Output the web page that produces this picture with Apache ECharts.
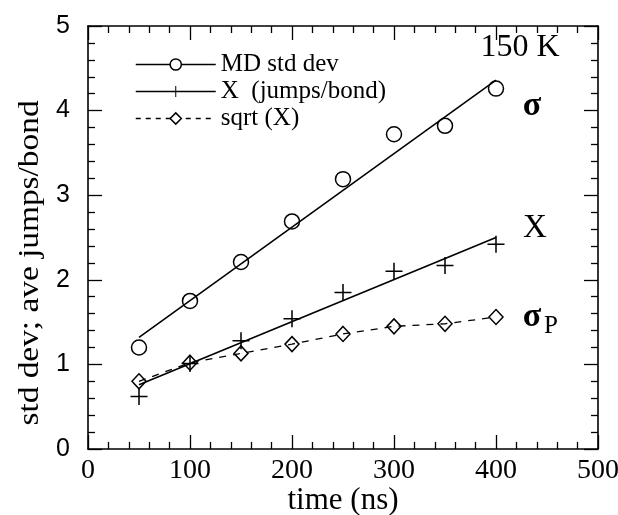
<!DOCTYPE html>
<html>
<head>
<meta charset="utf-8">
<script src="https://cdn.jsdelivr.net/npm/echarts@6/dist/echarts.min.js"></script>
<style>
html, body { margin: 0; padding: 0; background: #fff; }
#chart { width: 618px; height: 515px; }
</style>
</head>
<body>
<div id="chart"></div>
<script>
// time points (ns)
var times = [50, 100, 150, 200, 250, 300, 350, 400];
// MD std dev (circles)
var mdStd = [1.20, 1.75, 2.21, 2.69, 3.19, 3.72, 3.82, 4.26];
// X jumps/bond (crosses)
var jumps = [0.62, 1.01, 1.28, 1.54, 1.85, 2.10, 2.17, 2.42];
// sqrt(X) (diamonds)
var sqrtJumps = [0.80, 1.02, 1.13, 1.24, 1.36, 1.45, 1.48, 1.56];
// straight fit lines, end points
var sigmaFitX = [50, 400];
var sigmaFitY = [1.32, 4.36];
var jumpsFitX = [50, 400];
var jumpsFitY = [0.76, 2.50];

var serif = 'Liberation Serif';
var sans = 'Liberation Sans';
var plusPath = 'path://M-0.9,-10h1.8v20h-1.8z M-10,-0.9h20v1.8h-20z';

function pairs(xs, ys) {
    return xs.map(function (x, i) { return [x, ys[i]]; });
}

var myChart = echarts.init(document.getElementById('chart'));

var axisBase = {
    axisLine: { onZero: false, lineStyle: { color: '#000', width: 1.6 } },
    axisTick: { inside: true, length: 14, lineStyle: { color: '#000', width: 1.3 } },
    minorTick: { show: true, splitNumber: 5, length: 7, lineStyle: { color: '#000', width: 1.3 } },
    splitLine: { show: false }
};

var option = {
    backgroundColor: '#fff',
    animation: false,
    grid: { left: 88, top: 26, right: 20, bottom: 66, outerBoundsMode: 'none' },
    legend: {
        left: 130,
        top: 47,
        orient: 'vertical',
        itemWidth: 80,
        itemHeight: 14,
        itemGap: 2,
        textStyle: { fontFamily: serif, fontSize: 25, color: '#000' },
        data: [
            { name: 'MD std dev', itemStyle: { color: '#fff', borderColor: '#000', borderWidth: 1.5 },
              lineStyle: { width: 1.5, color: '#000', opacity: 1 } },
            { name: 'X  (jumps/bond)', lineStyle: { width: 1.5, color: '#000', opacity: 1 } },
            { name: 'sqrt (X)', itemStyle: { color: '#fff', borderColor: '#000', borderWidth: 1.5 },
              lineStyle: { width: 1.3, color: '#000', type: [5, 5], opacity: 1 } }
        ]
    },
    xAxis: [
        Object.assign({
            type: 'value', min: 0, max: 500, interval: 100, position: 'bottom',
            name: 'time (ns)', nameLocation: 'middle', nameGap: 36, nameMoveOverlap: false,
            nameTextStyle: { fontFamily: serif, fontSize: 31, color: '#000', verticalAlign: 'top' },
            axisLabel: { fontFamily: serif, fontSize: 28, color: '#000', margin: 8 }
        }, axisBase),
        Object.assign({
            type: 'value', min: 0, max: 500, interval: 100, position: 'top',
            axisLabel: { show: false }
        }, axisBase)
    ],
    yAxis: [
        Object.assign({
            type: 'value', min: 0, max: 5, interval: 1, position: 'left',
            axisLabel: { fontFamily: sans, fontSize: 25, color: '#000', margin: 18 }
        }, axisBase),
        Object.assign({
            type: 'value', min: 0, max: 5, interval: 1, position: 'right',
            axisLabel: { show: false }
        }, axisBase)
    ],
    graphic: [
        { type: 'text', x: 30, y: 263, rotation: Math.PI / 2, scaleX: 1.15,
          style: { text: 'std dev; ave jumps/bond', font: '29px "Liberation Serif"', fill: '#000',
                   textAlign: 'center', textVerticalAlign: 'middle' } },
        { type: 'text', x: 520, y: 48,
          style: { text: '150 K', font: '32px "Liberation Serif"', fill: '#000',
                   textAlign: 'center', textVerticalAlign: 'middle' } },
        { type: 'text', x: 532, y: 106,
          style: { text: 'σ', font: 'bold 34px "Liberation Serif"', fill: '#000',
                   textAlign: 'center', textVerticalAlign: 'middle' } },
        { type: 'text', x: 535, y: 228,
          style: { text: 'X', font: '33px "Liberation Serif"', fill: '#000',
                   textAlign: 'center', textVerticalAlign: 'middle' } },
        { type: 'text', x: 532, y: 317,
          style: { text: 'σ', font: 'bold 34px "Liberation Serif"', fill: '#000',
                   textAlign: 'center', textVerticalAlign: 'middle' } },
        { type: 'text', x: 551, y: 326,
          style: { text: 'P', font: '25px "Liberation Serif"', fill: '#000',
                   textAlign: 'center', textVerticalAlign: 'middle' } }
    ],
    series: [
        {
            name: 'sigma fit', type: 'line', data: pairs(sigmaFitX, sigmaFitY),
            showSymbol: false, symbol: 'none', silent: true,
            lineStyle: { color: '#000', width: 1.6 }
        },
        {
            name: 'X fit', type: 'line', data: pairs(jumpsFitX, jumpsFitY),
            showSymbol: false, symbol: 'none', silent: true,
            lineStyle: { color: '#000', width: 1.6 }
        },
        {
            name: 'MD std dev', type: 'line', data: pairs(times, mdStd),
            symbol: 'circle', symbolSize: 15,
            itemStyle: { color: 'transparent', borderColor: '#000', borderWidth: 1.5 },
            lineStyle: { width: 0, opacity: 0 }
        },
        {
            name: 'X  (jumps/bond)', type: 'line', data: pairs(times, jumps),
            symbol: plusPath, symbolSize: 17,
            itemStyle: { color: '#000' },
            lineStyle: { width: 0, opacity: 0 }
        },
        {
            name: 'sqrt (X)', type: 'line', data: pairs(times, sqrtJumps),
            symbol: 'diamond', symbolSize: [14, 15],
            itemStyle: { color: 'transparent', borderColor: '#000', borderWidth: 1.5 },
            lineStyle: { color: '#000', width: 1.3, type: [7, 7] }
        }
    ]
};

myChart.setOption(option);
</script>
</body>
</html>
